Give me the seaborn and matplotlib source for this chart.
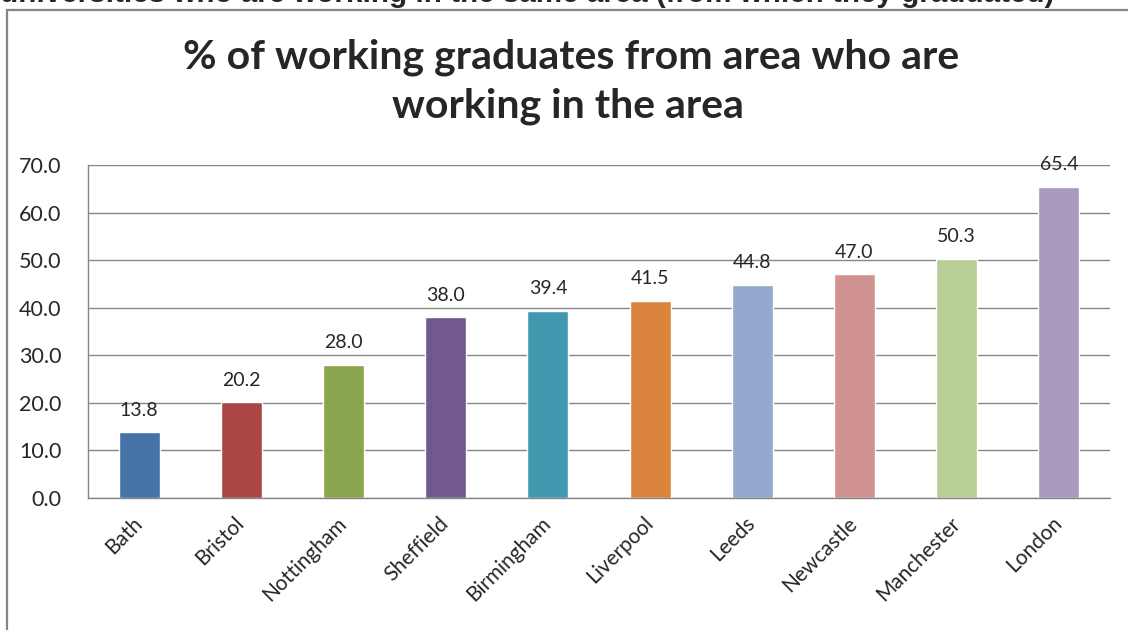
import matplotlib.pyplot as plt
import matplotlib.patches as patches
import pandas as pd
import seaborn as sns

cities = ['Bath', 'Bristol', 'Nottingham', 'Sheffield', 'Birmingham',
          'Liverpool', 'Leeds', 'Newcastle', 'Manchester', 'London']
pct_working_in_area = [13.8, 20.2, 28.0, 38.0, 39.4, 41.5, 44.8, 47.0, 50.3, 65.4]
bar_colors = ['#4572A7', '#AA4643', '#89A54E', '#71588F', '#4198AF',
              '#DB843D', '#93A9CF', '#D19392', '#B9CD96', '#A99BBD']
y_ticks = [0, 10, 20, 30, 40, 50, 60, 70]

df = pd.DataFrame({'city': cities, 'pct': pct_working_in_area})

sns.set_style('white')
plt.rcParams['font.family'] = ['Lato', 'DejaVu Sans']

W, H = 1128, 630
fig = plt.figure(figsize=(W / 100, H / 100), dpi=100)

# outer chart frame (right and bottom edges run off the picture)
fig.patches.append(patches.Rectangle((7 / W, -10 / H), 1130 / W, 630 / H,
                                     transform=fig.transFigure, fill=False,
                                     edgecolor='#868686', linewidth=1.6))

# leftover heading from the page, cut off at the top
fig.text(0, 1 - 2 / H,
         'universities who are working in the same area (from which they graduated)',
         ha='left', va='baseline', fontsize=21.3, fontweight='bold',
         family=['Liberation Sans', 'DejaVu Sans'])

ax = fig.add_axes([88 / W, 132 / H, 1022 / W, 333 / H])
sns.barplot(ax=ax, data=df, x='city', y='pct', hue='city', palette=bar_colors,
            width=0.4, legend=False, saturation=1)

for i, v in enumerate(pct_working_in_area):
    ax.text(i, v + 4.6, '{:.1f}'.format(v), ha='center', va='center', fontsize=14)

ax.set_ylim(0, 70)
ax.set_xlim(-0.5, len(cities) - 0.5)
ax.set_yticks(y_ticks)
ax.set_yticklabels(['{:.1f}'.format(t) for t in y_ticks], fontsize=15.5)
ax.yaxis.grid(True, color='#868686', linewidth=1)
ax.set_axisbelow(True)

ax.set_xticks(range(len(cities)))
ax.set_xticklabels(cities, rotation=45, ha='right', va='center',
                   rotation_mode='anchor', fontsize=15)
ax.set_xticks([i - 0.5 for i in range(len(cities) + 1)], minor=True)
ax.tick_params(axis='x', which='major', length=0, pad=16)
ax.tick_params(axis='x', which='minor', length=6, color='#868686', width=1)
ax.tick_params(axis='y', length=7, color='#868686', width=1, pad=12)
ax.set_xlabel('')
ax.set_ylabel('')

for side in ['top', 'right']:
    ax.spines[side].set_visible(False)
for side in ['left', 'bottom']:
    ax.spines[side].set_color('#868686')
    ax.spines[side].set_linewidth(1)

fig.text(571 / W, 1 - 57 / H, '% of working graduates from area who are',
         ha='center', va='center', fontsize=29.5, fontweight='bold')
fig.text(568 / W, 1 - 106 / H, 'working in the area',
         ha='center', va='center', fontsize=29.5, fontweight='bold')

plt.savefig('out.png', dpi=100)
